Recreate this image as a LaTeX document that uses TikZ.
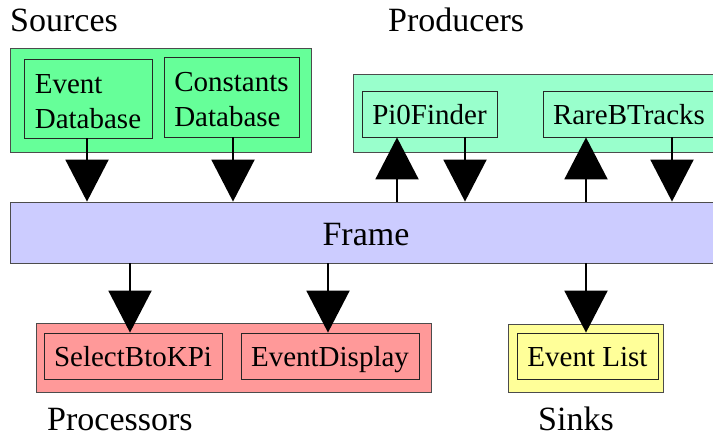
\documentclass[tikz,border=0pt]{standalone}
\usepackage{fontspec}
\setmainfont{Liberation Serif}
\usetikzlibrary{arrows.meta,positioning}

\definecolor{srcgreen}{HTML}{66FF99}
\definecolor{prodgreen}{HTML}{99FFCC}
\definecolor{framelilac}{HTML}{CCCCFF}
\definecolor{procred}{HTML}{FF9999}
\definecolor{sinkyellow}{HTML}{FFFF99}

\tikzset{
	group/.style={draw=black!70, line width=0.8pt, inner sep=0pt},
	module/.style={draw=black!85, line width=0.8pt, inner sep=0pt,
		font=\fontsize{29}{35}\selectfont, align=left},
	single/.style={module, text height=21pt, text depth=0pt},
	title/.style={font=\fontsize{34}{40}\selectfont, inner sep=0pt, anchor=base west},
	flow/.style={-{Triangle[width=43pt,length=42pt]}, line width=2pt}
}

\begin{document}
\begin{tikzpicture}[x=1pt, y=-1pt]
	\useasboundingbox (0,0) rectangle (713,438);
	\clip (0,0) rectangle (713,438);

	% groups
	\node[group, fill=srcgreen, minimum width=301pt, minimum height=104pt] (sources) at (160.5,100) {};
	\node[group, fill=prodgreen, minimum width=372pt, minimum height=78pt] (producers) at (539,113) {};
	\node[group, fill=procred, minimum width=395pt, minimum height=69pt] (processors) at (233.5,357.5) {};
	\node[group, fill=sinkyellow, minimum width=155pt, minimum height=68pt] (sinks) at (585.5,358) {};

	\node[group, fill=framelilac, minimum width=712pt, minimum height=61pt,
		font=\fontsize{34}{40}\selectfont, text height=27pt, text depth=0pt] (frame) at (366,232.5) {Frame};

	% modules
	\node[module, fill=srcgreen, minimum width=128pt, minimum height=79pt] (evdb) at (88,98.5) {\rule{0pt}{25pt}Event\\Database};
	\node[module, fill=srcgreen, minimum width=135pt, minimum height=80pt] (constdb) at (231.5,97) {\rule{0pt}{25pt}Constants\\Database};
	\node[single, fill=prodgreen, minimum width=135pt, minimum height=46pt] (pi0) at (429.5,114) {Pi0Finder};
	\node[single, fill=prodgreen, minimum width=172pt, minimum height=46pt] (rareb) at (629,114) {RareBTracks};
	\node[single, fill=procred, minimum width=178pt, minimum height=46pt] (selb) at (133,356) {SelectBtoKPi};
	\node[single, fill=procred, minimum width=178pt, minimum height=46pt] (evdisp) at (330,356) {EventDisplay};
	\node[single, fill=sinkyellow, minimum width=141pt, minimum height=46pt] (evlist) at (587.5,356) {Event List};

	% titles
	\node[title] (srctitle) at (10,32) {Sources};
	\node[title] (prodtitle) at (388,32) {Producers};
	\node[title] (proctitle) at (47,431) {Processors};
	\node[title] (sinktitle) at (538,431) {Sinks};

	% data flow
	\draw[flow] ([xshift=-1pt]evdb.south) -- ([xshift=-1pt]evdb.south |- frame.north);
	\draw[flow] ([xshift=1.5pt]constdb.south) -- ([xshift=1.5pt]constdb.south |- frame.north);
	\draw[flow] ([xshift=-32.5pt]pi0.south |- frame.north) -- ([xshift=-32.5pt]pi0.south);
	\draw[flow] ([xshift=35.5pt]pi0.south) -- ([xshift=35.5pt]pi0.south |- frame.north);
	\draw[flow] ([xshift=-43pt]rareb.south |- frame.north) -- ([xshift=-43pt]rareb.south);
	\draw[flow] ([xshift=43pt]rareb.south) -- ([xshift=43pt]rareb.south |- frame.north);
	\draw[flow] ([xshift=-3pt]selb.north |- frame.south) -- ([xshift=-3pt]selb.north);
	\draw[flow] ([xshift=-2pt]evdisp.north |- frame.south) -- ([xshift=-2pt]evdisp.north);
	\draw[flow] ([xshift=-1.5pt]evlist.north |- frame.south) -- ([xshift=-1.5pt]evlist.north);
\end{tikzpicture}
\end{document}
